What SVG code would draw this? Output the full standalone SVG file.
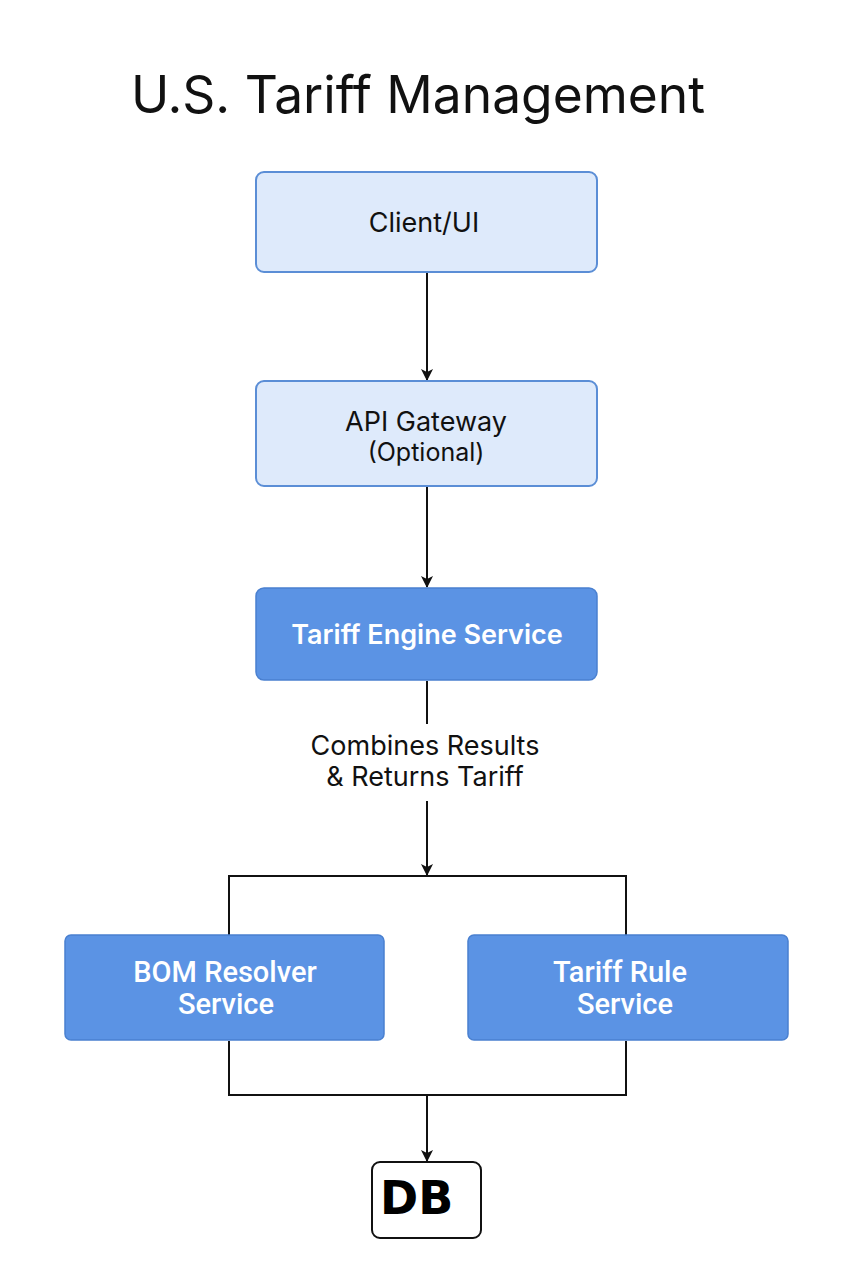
<svg xmlns="http://www.w3.org/2000/svg" width="853" height="1280" viewBox="0 0 853 1280">
<style>
.light{fill:#deeafb;stroke:#5b8ed6;stroke-width:2}
.dark{fill:#5b93e4;stroke:#4a80d0;stroke-width:1.5}
.t{font-family:Inter,"Noto Sans",sans-serif;fill:#111;text-anchor:middle}
.w{font-family:Roboto,"Noto Sans",sans-serif;fill:#fff;text-anchor:middle;font-weight:500}
.ln{stroke:#111;stroke-width:2;fill:none}
</style>
<defs>
<marker id="ah" viewBox="0 0 12 12" refX="11" refY="6" markerWidth="12" markerHeight="12" markerUnits="userSpaceOnUse" orient="auto">
<path d="M0,0 L12,6 L0,12 L3,6 Z" fill="#111"/>
</marker>
</defs>
<rect width="853" height="1280" fill="#fff"/>
<text x="418" y="113" font-family="Inter,'Noto Sans',sans-serif" font-size="51.5" fill="#111" text-anchor="middle">U.S. Tariff Management</text>
<g id="connectors">
<line class="ln" x1="427" y1="273" x2="427" y2="380" marker-end="url(#ah)"/>
<line class="ln" x1="427" y1="487" x2="427" y2="587" marker-end="url(#ah)"/>
<line class="ln" x1="427" y1="681" x2="427" y2="724"/>
<line class="ln" x1="427" y1="801" x2="427" y2="875" marker-end="url(#ah)"/>
<polyline class="ln" points="229,935 229,876 626,876 626,935"/>
<polyline class="ln" points="229,1041 229,1095 626,1095 626,1041"/>
<line class="ln" x1="427" y1="1095" x2="427" y2="1161" marker-end="url(#ah)"/>
<text class="t" x="425" y="755" font-size="27">Combines Results</text>
<text class="t" x="425" y="786" font-size="27">&amp; Returns Tariff</text>
</g>
<g id="client">
<rect class="light" x="256" y="172" width="341" height="100" rx="8"/>
<text class="t" x="424" y="232" font-size="27">Client/UI</text>
</g>
<g id="gateway">
<rect class="light" x="256" y="381" width="341" height="105" rx="8"/>
<text class="t" x="426" y="431" font-size="27">API Gateway</text>
<text class="t" x="426" y="461" font-size="25">(Optional)</text>
</g>
<g id="engine">
<rect class="dark" x="256" y="588" width="341" height="92" rx="8"/>
<text x="427" y="644" font-size="27" fill="#fff" text-anchor="middle" font-family="Inter,'Noto Sans',sans-serif" font-weight="600">Tariff Engine Service</text>
</g>
<g id="bom">
<rect class="dark" x="65" y="935" width="319" height="105" rx="6"/>
<text class="w" x="225" y="982" font-size="29">BOM Resolver</text>
<text class="w" x="226" y="1014" font-size="29">Service</text>
</g>
<g id="rule">
<rect class="dark" x="468" y="935" width="320" height="105" rx="6"/>
<text class="w" x="620" y="982" font-size="29">Tariff Rule</text>
<text class="w" x="625" y="1014" font-size="29">Service</text>
</g>
<g id="db">
<rect x="372" y="1162" width="109" height="76" rx="8" fill="#fff" stroke="#111" stroke-width="2"/>
<text x="380" y="1214" font-family="'DejaVu Sans',sans-serif" font-weight="bold" font-size="46" fill="#000">DB</text>
</g>
</svg>
